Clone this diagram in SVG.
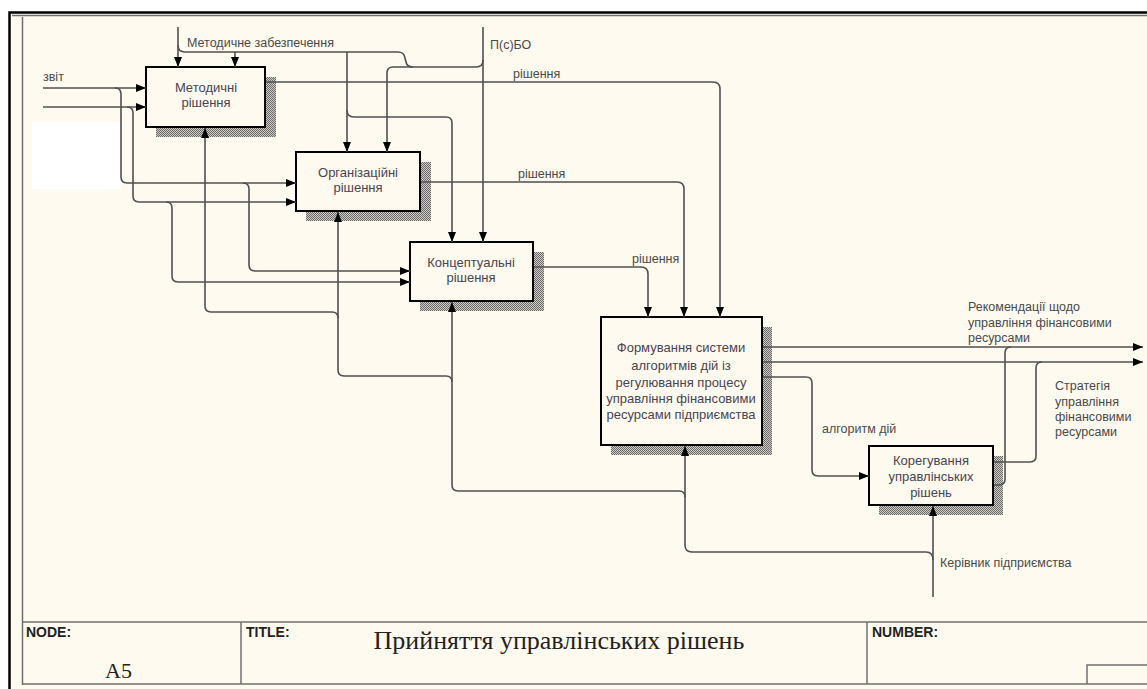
<svg xmlns="http://www.w3.org/2000/svg" width="1147" height="689" viewBox="0 0 1147 689">
<defs>
<pattern id="hatch" width="2" height="2" patternUnits="userSpaceOnUse">
<rect width="2" height="2" fill="#d0ccc4"/>
<rect width="1" height="1" fill="#6a6a6a"/>
<rect x="1" y="1" width="1" height="1" fill="#6a6a6a"/>
</pattern>
<marker id="ah" markerWidth="10" markerHeight="8" refX="10" refY="4" orient="auto" markerUnits="userSpaceOnUse">
<path d="M0,0 L10,4 L0,8 Z" fill="#000"/>
</marker>
</defs>
<style>
.frame{fill:none;stroke:#000;stroke-width:2.5}
.gray{fill:none;stroke:#707070;stroke-width:1.5}
.box{fill:#fefaf0;stroke:#000;stroke-width:2}
.sh{fill:url(#hatch)}
.bt{font-family:"Liberation Sans",Arial,sans-serif;font-size:13px;fill:#4a4452;text-anchor:middle}
.lb{font-family:"Liberation Sans",Arial,sans-serif;font-size:12.5px;fill:#4a4a4a}
.c{fill:none;stroke:#505050;stroke-width:1.6}
.a{marker-end:url(#ah)}
.tb{font-family:"Liberation Sans",Arial,sans-serif;font-size:14px;font-weight:bold;fill:#222}
.serif{font-family:"Liberation Serif","Times New Roman",serif;fill:#222}
</style>
<rect width="1147" height="689" fill="#fff"/>
<rect x="10" y="13" width="1137" height="676" fill="#fefaf0"/>
<path class="frame" d="M9.5,689 V12.5 H1147"/>
<path class="gray" d="M12,15.5 H1147 M22.5,17 V685"/>
<g id="titleblock">
<path class="gray" d="M22,622 H1147 M22,684 H1147 M241,622 V684 M867,622 V684 M1087,684 V665 H1147"/>
<text class="tb" x="26" y="637">NODE:</text>
<text class="tb" x="246" y="637">TITLE:</text>
<text class="tb" x="872" y="637">NUMBER:</text>
<text class="serif" x="105" y="678" font-size="22">A5</text>
<text class="serif" x="559" y="649" font-size="26" text-anchor="middle">Прийняття управлінських рішень</text>
</g>
<rect x="32" y="122" width="89" height="67" fill="#fff"/>
<g id="node1">
<rect class="sh" x="156" y="77" width="120" height="60"/>
<rect class="box" x="146" y="67" width="119" height="60"/>
<text class="bt" x="206" y="92">Методичні</text>
<text class="bt" x="206" y="107">рішення</text>
</g>
<g id="node2">
<rect class="sh" x="306" y="162" width="125" height="59"/>
<rect class="box" x="296" y="152" width="124" height="59"/>
<text class="bt" x="358" y="177">Організаційні</text>
<text class="bt" x="358" y="192">рішення</text>
</g>
<g id="node3">
<rect class="sh" x="420" y="252" width="124" height="59"/>
<rect class="box" x="410" y="242" width="123" height="59"/>
<text class="bt" x="471" y="267">Концептуальні</text>
<text class="bt" x="471" y="282">рішення</text>
</g>
<g id="node4">
<rect class="sh" x="611" y="327" width="161" height="128"/>
<rect class="box" x="601" y="317" width="161" height="128"/>
<text class="bt" x="681" y="352">Формування системи</text>
<text class="bt" x="681" y="370">алгоритмів дій із</text>
<text class="bt" x="681" y="387">регулювання процесу</text>
<text class="bt" x="681" y="403">управління фінансовими</text>
<text class="bt" x="681" y="419">ресурсами підприємства</text>
</g>
<g id="node5">
<rect class="sh" x="879" y="456" width="124" height="59"/>
<rect class="box" x="869" y="446" width="124" height="59"/>
<text class="bt" x="931" y="465">Корегування</text>
<text class="bt" x="931" y="481">управлінських</text>
<text class="bt" x="931" y="497">рішень</text>
</g>
<g id="connectors">
<path class="c a" d="M178,27 V67"/>
<path class="c" d="M178,45 Q178,52 185,52 H398 Q404,52 405,58 L406,62 Q407,67 413,67"/>
<path class="c a" d="M235,52 V67"/>
<path class="c a" d="M347,52 V152"/>
<path class="c a" d="M347,110 Q347,117 354,117 H446 Q452,117 452,123 V242"/>
<path class="c a" d="M483,60 Q483,67 476,67 H393 Q387,67 387,73 V152"/>
<path class="c a" d="M483,27 V242"/>
<path class="c a" d="M266,82 H713 Q720,82 720,89 V317"/>
<path class="c a" d="M421,182 H677 Q684,182 684,189 V317"/>
<path class="c a" d="M534,267 H641 Q648,267 648,274 V317"/>
<path class="c a" d="M43,88 H146"/>
<path class="c a" d="M43,107 H146"/>
<path class="c a" d="M115,88 Q121,88 121,94 V177 Q121,183 127,183 H296"/>
<path class="c a" d="M127,107 Q133,107 133,113 V196 Q133,202 139,202 H296"/>
<path class="c a" d="M243,183 Q249,183 249,189 V265 Q249,271 255,271 H410"/>
<path class="c a" d="M166,202 Q172,202 172,208 V276 Q172,282 178,282 H410"/>
<path class="c a" d="M933,597 V506"/>
<path class="c a" d="M933,560 Q933,552 926,552 H692 Q685,552 685,545 V446"/>
<path class="c a" d="M685,497 Q685,491 679,491 H458 Q452,491 452,485 V302"/>
<path class="c a" d="M452,382 Q452,376 446,376 H344 Q338,376 338,370 V212"/>
<path class="c a" d="M338,318 Q338,312 332,312 H211 Q205,312 205,306 V128"/>
<path class="c a" d="M763,347 H1143"/>
<path class="c a" d="M763,362 H1143"/>
<path class="c a" d="M763,377 H806 Q812,377 812,383 V470 Q812,476 818,476 H869"/>
<path class="c" d="M994,462 H1030 Q1036,462 1036,456 V368 Q1036,362 1042,362"/>
<path class="c" d="M994,485 H999 Q1005,485 1005,479 V353 Q1005,347 1011,347"/>
<text class="lb" x="43" y="81">звіт</text>
<text class="lb" x="187" y="47">Методичне забезпечення</text>
<text class="lb" x="490" y="49">П(с)БО</text>
<text class="lb" x="513" y="78">рішення</text>
<text class="lb" x="518" y="178">рішення</text>
<text class="lb" x="632" y="263">рішення</text>
<text class="lb" x="968" y="311">Рекомендації щодо</text>
<text class="lb" x="968" y="327">управління фінансовими</text>
<text class="lb" x="968" y="342">ресурсами</text>
<text class="lb" x="1055" y="390">Стратегія</text>
<text class="lb" x="1055" y="406">управління</text>
<text class="lb" x="1055" y="421">фінансовими</text>
<text class="lb" x="1055" y="436">ресурсами</text>
<text class="lb" x="822" y="433">алгоритм дій</text>
<text class="lb" x="940" y="567">Керівник підприємства</text>
</g>
</svg>
